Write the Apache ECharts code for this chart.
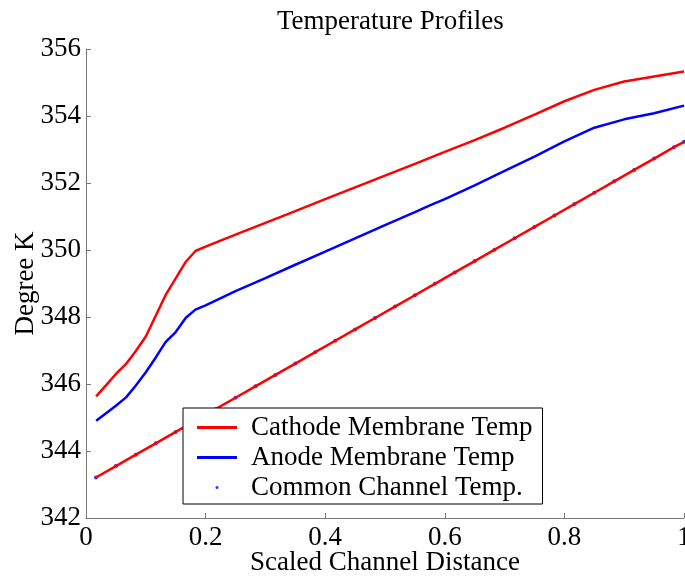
<!DOCTYPE html>
<html>
<head>
<meta charset="utf-8">
<script src="https://cdn.jsdelivr.net/npm/echarts@6/dist/echarts.min.js"></script>
<style>html,body{margin:0;padding:0;background:#fff;}#c{width:685px;height:576px;}</style>
</head>
<body>
<div id="c"></div>
<script>
// Data
const cathodeX = [0.017,0.033,0.05,0.067,0.083,0.10,0.117,0.133,0.15,0.167,0.183,0.20,0.25,0.30,0.35,0.40,0.45,0.50,0.55,0.60,0.65,0.70,0.75,0.80,0.85,0.90,0.95,1.00];
const cathodeT = [345.63,345.95,346.30,346.60,346.98,347.42,348.05,348.65,349.15,349.65,349.97,350.10,350.46,350.81,351.16,351.52,351.87,352.22,352.57,352.93,353.28,353.65,354.04,354.44,354.78,355.03,355.18,355.33];

const anodeX = [0.017,0.033,0.05,0.067,0.083,0.10,0.117,0.133,0.15,0.167,0.183,0.20,0.25,0.30,0.35,0.40,0.45,0.50,0.55,0.576,0.60,0.65,0.70,0.75,0.80,0.85,0.90,0.95,1.00];
const anodeT = [344.90,345.12,345.35,345.60,345.95,346.35,346.80,347.25,347.55,347.98,348.22,348.35,348.77,349.16,349.56,349.95,350.35,350.74,351.13,351.34,351.52,351.93,352.36,352.79,353.24,353.65,353.90,354.08,354.31];

const channelX = [0.0167,0.05,0.0833,0.1167,0.15,0.1833,0.2167,0.25,0.2833,0.3167,0.35,0.3833,0.4167,0.45,0.4833,0.5167,0.55,0.5833,0.6167,0.65,0.6833,0.7167,0.75,0.7833,0.8167,0.85,0.8833,0.9167,0.95,0.9833,1.0];
const channelT = [343.21,343.55,343.89,344.23,344.57,344.91,345.25,345.59,345.93,346.27,346.61,346.95,347.29,347.63,347.97,348.31,348.65,348.99,349.33,349.67,350.01,350.35,350.69,351.03,351.37,351.71,352.05,352.39,352.73,353.07,353.23];

const xTicks = [0, 0.2, 0.4, 0.6, 0.8, 1];
const yTicks = [342, 344, 346, 348, 350, 352, 354, 356];

const titleText = 'Temperature Profiles';
const xName = 'Scaled Channel Distance';
const yName = 'Degree K';
const names = ['Cathode Membrane Temp', 'Anode Membrane Temp', 'Common Channel Temp.'];

function pairs(xs, ys) { return xs.map((x, i) => [x, ys[i]]); }

const FONT = '"Liberation Serif", "Times New Roman", serif';
const FS = 27;

const chart = echarts.init(document.getElementById('c'), null, {renderer: 'canvas'});
chart.setOption({
  animation: false,
  backgroundColor: '#fff',
  title: {
    text: titleText,
    left: 272, top: 3,
    textStyle: {fontFamily: FONT, fontSize: FS, fontWeight: 'normal', color: '#000'}
  },
  grid: {left: 86, right: 1, top: 49, bottom: 58, containLabel: false, outerBoundsMode: 'none'},
  xAxis: {
    type: 'value',
    min: xTicks[0], max: xTicks[xTicks.length - 1], interval: 0.2,
    name: xName, nameLocation: 'middle', nameGap: 31, nameMoveOverlap: false,
    nameTextStyle: {fontFamily: FONT, fontSize: FS, color: '#000'},
    axisLine: {show: true, lineStyle: {color: '#777', width: 1}},
    axisTick: {show: true, inside: true, length: 5, lineStyle: {color: '#777'}},
    axisLabel: {fontFamily: FONT, fontSize: FS, color: '#000', margin: 6, hideOverlap: false},
    splitLine: {show: false}
  },
  yAxis: {
    type: 'value',
    min: yTicks[0], max: yTicks[yTicks.length - 1], interval: 2,
    name: yName, nameLocation: 'middle', nameGap: 47, nameRotate: 90, nameMoveOverlap: false,
    nameTextStyle: {fontFamily: FONT, fontSize: FS, color: '#000'},
    axisLine: {show: true, lineStyle: {color: '#777', width: 1}},
    axisTick: {show: true, inside: true, length: 5, lineStyle: {color: '#777'}},
    axisLabel: {fontFamily: FONT, fontSize: FS, color: '#000', margin: 5, hideOverlap: false},
    splitLine: {show: false}
  },
  legend: {
    orient: 'vertical',
    left: 183, top: 408,
    backgroundColor: '#fff',
    borderColor: '#000', borderWidth: 1,
    padding: [6, 10, 3, 14],
    itemGap: 3,
    itemWidth: 40, itemHeight: 3,
    textStyle: {fontFamily: FONT, fontSize: FS, color: '#000', padding: [0, 0, 0, 9]},
    data: [
      {name: names[0], icon: 'rect'},
      {name: names[1], icon: 'rect'},
      {name: names[2], icon: 'circle'}
    ]
  },
  series: [
    {
      name: names[2], type: 'scatter', data: pairs(channelX, channelT),
      symbol: 'circle', symbolSize: 4, itemStyle: {color: '#0000ff'}, z: 2
    },
    {
      name: 'channel-line', type: 'line', data: pairs(channelX, channelT),
      showSymbol: false, symbol: 'none', lineStyle: {color: '#ff0000', width: 2.5},
      itemStyle: {color: '#ff0000'}, z: 3
    },
    {
      name: names[0], type: 'line', data: pairs(cathodeX, cathodeT),
      showSymbol: false, symbol: 'none', lineStyle: {color: '#ff0000', width: 2.5},
      itemStyle: {color: '#ff0000'}, z: 3
    },
    {
      name: names[1], type: 'line', data: pairs(anodeX, anodeT),
      showSymbol: false, symbol: 'none', lineStyle: {color: '#0000ff', width: 2.5},
      itemStyle: {color: '#0000ff'}, z: 3
    }
  ]
});
</script>
</body>
</html>
